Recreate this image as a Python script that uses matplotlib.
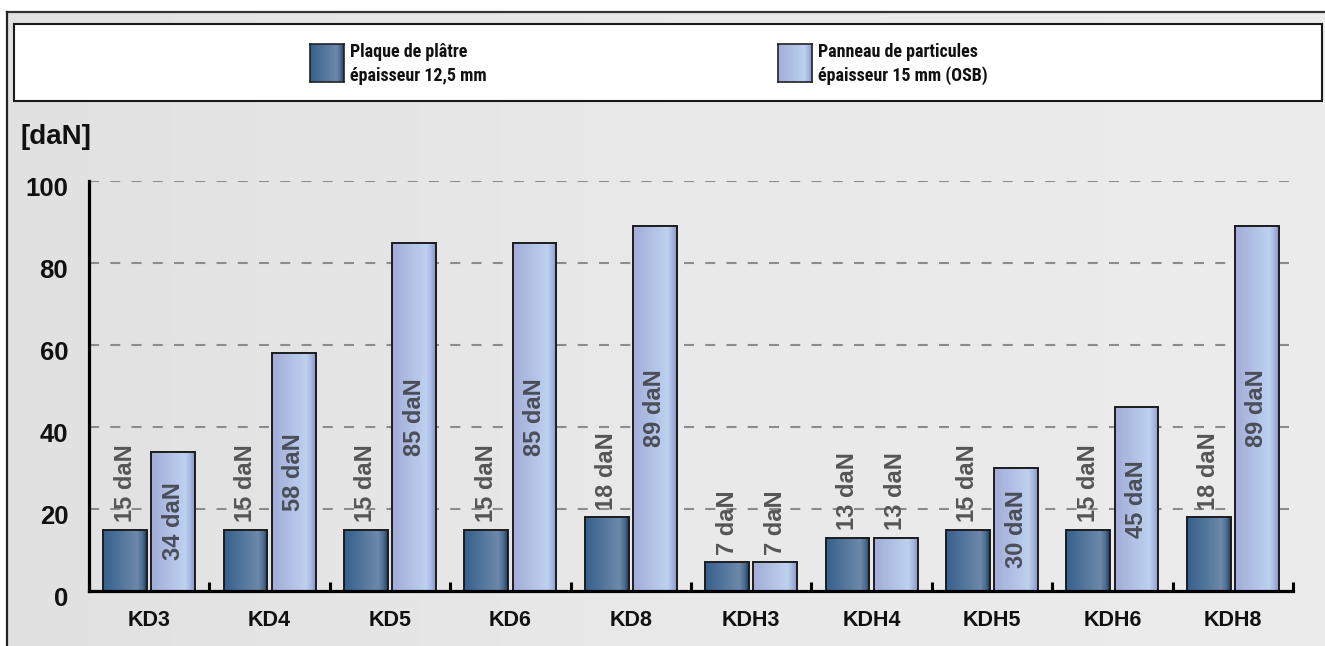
import numpy as np
import matplotlib
matplotlib.use("Agg")
import matplotlib.pyplot as plt
from matplotlib import font_manager as fm
from matplotlib.patches import Rectangle
from matplotlib.lines import Line2D
from matplotlib.colors import LinearSegmentedColormap
import matplotlib.transforms as mtransforms

# ---- data -------------------------------------------------------------
categories = ["KD3", "KD4", "KD5", "KD6", "KD8", "KDH3", "KDH4", "KDH5", "KDH6", "KDH8"]
plaque_platre = [15, 15, 15, 15, 18, 7, 13, 15, 15, 18]
panneau_osb = [34, 58, 85, 85, 89, 7, 13, 30, 45, 89]
series_labels = ["Plaque de plâtre\népaisseur 12,5 mm",
                 "Panneau de particules\népaisseur 15 mm (OSB)"]
y_ticks = [0, 20, 40, 60, 80, 100]
unit = "daN"

# ---- fonts ------------------------------------------------------------
BOLD = ["Liberation Sans", "DejaVu Sans"]


def pick_condensed_bold():
    """Return a FontProperties for a bold condensed face if one is installed."""
    prefs = ["Roboto Condensed", "Liberation Sans Narrow", "Open Sans Condensed",
             "DejaVu Sans Condensed", "Noto Sans Condensed", "DejaVu Sans"]
    found = []
    for f in fm.fontManager.ttflist:
        stretched = (f.stretch in ("condensed", "semi-condensed", "extra-condensed")
                     or "Narrow" in f.name or "Condensed" in f.name
                     or "Condensed" in f.fname or "Narrow" in f.fname)
        w = f.weight if isinstance(f.weight, int) else fm.weight_dict.get(f.weight, 400)
        if stretched and w >= 600 and "Oblique" not in f.fname and "Italic" not in f.fname:
            found.append(f)
    for p in prefs:
        for f in found:
            if f.name == p or p.replace(" ", "") in f.fname.replace(" ", ""):
                return fm.FontProperties(fname=f.fname), True
    if found:
        return fm.FontProperties(fname=found[0].fname), True
    return fm.FontProperties(family=BOLD, weight="bold"), False


legend_font, is_condensed = pick_condensed_bold()

# ---- styling ----------------------------------------------------------
cmap_dark = LinearSegmentedColormap.from_list(
    "dark", [(0.0, "#36608d"), (0.78, "#6d88aa"), (0.9, "#4d6d91"), (1.0, "#173a5c")])
cmap_light = LinearSegmentedColormap.from_list(
    "light", [(0.0, "#a2acd8"), (0.78, "#bdd1ef"), (0.9, "#a6b6e1"), (1.0, "#8695c6")])
grad = np.linspace(0, 1, 256).reshape(1, -1)

W, H = 1325, 646
fig = plt.figure(figsize=(W / 100, H / 100), dpi=100)
fig.patch.set_facecolor("white")


def fx(px):
    return px / W


def fy(py):
    return 1 - py / H


# grey panel with a faint horizontal shading
bg = fig.add_axes([fx(7), 0, 1 - fx(7), fy(12)], zorder=0)
bg.imshow(grad, cmap=LinearSegmentedColormap.from_list("bg", ["#e1e1e1", "#e9e9e9", "#ececec"]),
          aspect="auto", extent=[0, 1, 0, 1])
bg.set_axis_off()

fig.add_artist(Line2D([fx(7), 1], [fy(12), fy(12)], color="#333333", lw=1.6, zorder=5))
fig.add_artist(Line2D([fx(7), fx(7)], [0, fy(12)], color="#222222", lw=1.6, zorder=5))

# legend frame
fig.add_artist(Rectangle((fx(14), fy(101)), fx(1322) - fx(14), fy(24) - fy(101),
                         transform=fig.transFigure, facecolor="white",
                         edgecolor="#1a1a1a", lw=1.5, zorder=4))

legend_items = [(310, series_labels[0], cmap_dark), (778, series_labels[1], cmap_light)]
legend_size = 13 if is_condensed else 11.5
for px, label, cm in legend_items:
    sw = fig.add_axes([fx(px), fy(82), fx(34), fy(0) - fy(38)], zorder=6)
    sw.imshow(grad, cmap=cm, aspect="auto", extent=[0, 1, 0, 1])
    sw.set_xticks([])
    sw.set_yticks([])
    for s in sw.spines.values():
        s.set_color("#222222")
        s.set_linewidth(1.2)
    t = fig.text(fx(px + 40), fy(64), label, ha="left", va="center",
                 fontproperties=legend_font, linespacing=1.36, color="#111111", zorder=7)
    t.set_fontsize(legend_size)

fig.text(fx(21), fy(124), "[" + unit + "]", ha="left", va="top", fontsize=20,
         fontweight="bold", family=BOLD, color="#111111")

# ---- main chart -------------------------------------------------------
ax = fig.add_axes([fx(89), fy(591), fx(1293) - fx(89), fy(181) - fy(591)], zorder=2)
ax.set_facecolor("none")

x = np.arange(len(categories))
width = 0.365
off = 0.2

bars_dark = ax.bar(x - off, plaque_platre, width, facecolor="none",
                   edgecolor="#1c1c1c", linewidth=1.4, zorder=3)
bars_light = ax.bar(x + off, panneau_osb, width, facecolor="none",
                    edgecolor="#1c1c1c", linewidth=1.4, zorder=3)

for bars, cm in ((bars_dark, cmap_dark), (bars_light, cmap_light)):
    for b in bars:
        im = ax.imshow(grad, cmap=cm, aspect="auto", zorder=2.5,
                       extent=[b.get_x(), b.get_x() + b.get_width(), 0, b.get_height()])
        im.set_clip_path(b)

for bars, vals in ((bars_dark, plaque_platre), (bars_light, panneau_osb)):
    for b, v in zip(bars, vals):
        cx = b.get_x() + b.get_width() / 2
        txt = f"{v} {unit}"
        if v >= 25:
            ax.text(cx, v / 2, txt, rotation=90, ha="center", va="center",
                    fontsize=17, fontweight="bold", family=BOLD, color="#4a4e57", zorder=4)
        else:
            ax.annotate(txt, (cx, v), xytext=(0, 5.5), textcoords="offset points",
                        rotation=90, ha="center", va="bottom", fontsize=17,
                        fontweight="bold", family=BOLD, color="#555555", zorder=4)

ax.set_xlim(-0.5, len(categories) - 0.5)
ax.set_ylim(0, 100)

ax.set_yticks(y_ticks)
ax.set_yticklabels([str(t) for t in y_ticks])
ax.tick_params(axis="y", length=0, pad=15, labelsize=18.5)
ax.set_xticks(x)
ax.set_xticklabels(categories)
ax.tick_params(axis="x", which="major", length=0, pad=14, labelsize=15.5)
ax.set_xticks(np.arange(len(categories) + 1) - 0.5, minor=True)
ax.tick_params(axis="x", which="minor", direction="in", length=6.5, width=2.2, color="black")

for lab in ax.get_yticklabels() + ax.get_xticklabels():
    lab.set_fontweight("bold")
    lab.set_family(BOLD)
    lab.set_color("#111111")
shift = mtransforms.ScaledTranslation(0, -5 / 100, fig.dpi_scale_trans)
for lab in ax.get_yticklabels():
    lab.set_transform(lab.get_transform() + shift)

ax.yaxis.grid(True, linestyle=(0, (4.8, 5.4)), color="#8c8c8c", linewidth=1.5)
ax.set_axisbelow(True)

for side in ("top", "right"):
    ax.spines[side].set_visible(False)
for side in ("left", "bottom"):
    ax.spines[side].set_color("black")
    ax.spines[side].set_linewidth(2.3)
    ax.spines[side].set_zorder(5)

fig.savefig("out.png", dpi=100)
